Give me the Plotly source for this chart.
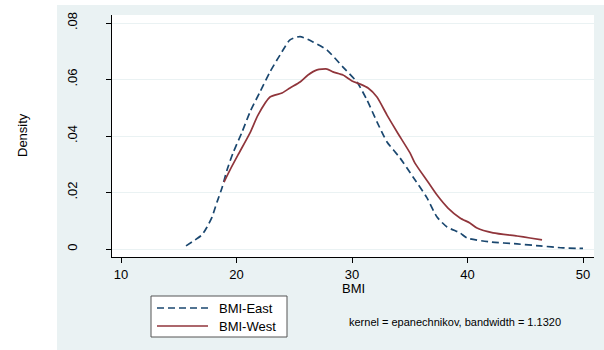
import plotly.graph_objects as go

# BMI-East kernel density
east_x = [15.63, 16.41, 17.01, 17.45, 17.88, 18.31, 18.74, 19.18, 19.70, 20.48,
          21.17, 22.03, 22.90, 23.77, 24.63, 25.50, 26.62, 27.84, 29.22, 30.43,
          31.30, 32.16, 33.03, 34.16, 35.28, 36.49, 37.36, 38.23, 39.35, 39.96,
          41.95, 44.29, 46.28, 48.27, 50.0]
east_y = [0.0011, 0.0032, 0.0050, 0.0078, 0.0113, 0.0166, 0.0216, 0.0280, 0.0340, 0.0414,
          0.0485, 0.0556, 0.0627, 0.0687, 0.0740, 0.0752, 0.0733, 0.0704, 0.0644, 0.0591,
          0.0527, 0.0450, 0.0379, 0.0322, 0.0255, 0.0181, 0.0113, 0.0078, 0.0057, 0.0039,
          0.0025, 0.0018, 0.0011, 0.0004, 0.0002]

# BMI-West kernel density
west_x = [18.92, 19.44, 20.13, 21.17, 21.86, 22.90, 23.94, 24.63, 25.50, 26.19,
          26.97, 27.84, 28.35, 29.22, 30.0, 30.69, 31.39, 32.16, 33.03, 33.90,
          35.02, 35.45, 36.58, 37.36, 38.31, 39.35, 40.2, 40.82, 42.21, 44.29,
          45.41, 46.45]
west_y = [0.0237, 0.0280, 0.0333, 0.0411, 0.0474, 0.0538, 0.0552, 0.0570, 0.0591, 0.0616,
          0.0634, 0.0637, 0.0627, 0.0616, 0.0595, 0.0584, 0.0570, 0.0538, 0.0474, 0.0414,
          0.0340, 0.0304, 0.0237, 0.0191, 0.0145, 0.0110, 0.0092, 0.0074, 0.0057, 0.0046,
          0.0039, 0.0032]

series_names = ["BMI-East", "BMI-West"]
series_colors = ["#1a476f", "#90353b"]
series_dash = ["7px,4px", "solid"]

x_ticks = [10, 20, 30, 40, 50]
y_ticks = [0, 0.02, 0.04, 0.06, 0.08]
y_ticklabels = ["0", ".02", ".04", ".06", ".08"]

FONT = "Liberation Sans, Arial, sans-serif"
BG = "#eaf2f3"

# plot area in pixels: x 112..594, y 15..257
L, R, T, B = 112, 594, 15, 257
W, H = 604, 350
def px(x):
    return (x - L) / (R - L)
def py(y):
    return (B - y) / (B - T)

fig = go.Figure()
for xs, ys, name, col, dash in zip([east_x, west_x], [east_y, west_y],
                                   series_names, series_colors, series_dash):
    fig.add_trace(go.Scatter(x=xs, y=ys, mode="lines", name=name, showlegend=False,
                             line=dict(color=col, width=1.7, dash=dash,
                                       shape="spline", smoothing=0.6)))

shapes = [
    dict(type="rect", xref="paper", yref="paper", x0=px(57), x1=px(604), y0=py(350), y1=py(5),
         fillcolor=BG, line=dict(width=0), layer="below"),
    dict(type="rect", xref="paper", yref="paper", x0=0, x1=1, y0=0, y1=1,
         fillcolor="white", line=dict(width=0), layer="below"),
    dict(type="rect", xref="paper", yref="paper", x0=px(151), x1=px(287), y0=py(337), y1=py(296),
         fillcolor="white", line=dict(width=1, color="#555555"), layer="below"),
]

annotations = [
    dict(text="Density", xref="paper", yref="paper", x=px(22), y=py(135), textangle=-90,
         showarrow=False, font=dict(size=13, family=FONT, color="black"), xanchor="center", yanchor="middle"),
    dict(text="BMI", xref="paper", yref="paper", x=0.5, y=py(288), showarrow=False,
         font=dict(size=13, family=FONT, color="black"), xanchor="center", yanchor="middle"),
    dict(text="kernel = epanechnikov, bandwidth = 1.1320", xref="paper", yref="paper",
         x=px(455), y=py(322), showarrow=False,
         font=dict(size=11, family=FONT, color="black"), xanchor="center", yanchor="middle"),
]

# legend entries (key line + label), placed inside the legend box
for i, (name, col, dash) in enumerate(zip(series_names, series_colors, series_dash)):
    yy = 308 + 18 * i
    shapes.append(dict(type="line", xref="paper", yref="paper", x0=px(157), x1=px(208),
                       y0=py(yy), y1=py(yy), line=dict(color=col, width=1.7, dash=dash)))
    annotations.append(dict(text=name, xref="paper", yref="paper", x=px(217), y=py(yy),
                            showarrow=False, xanchor="left", yanchor="middle",
                            font=dict(size=13, family=FONT, color="black")))

fig.update_layout(
    width=W, height=H,
    margin=dict(l=L, r=W - R, t=T, b=H - B, pad=0, autoexpand=False),
    paper_bgcolor="white", plot_bgcolor="white",
    font=dict(family=FONT, size=13, color="black"),
    shapes=shapes, annotations=annotations,
    showlegend=False,
    xaxis=dict(range=[9.221, 50.95], tickvals=x_ticks, ticks="outside", ticklen=5,
               tickcolor="black", showline=True, linecolor="black", linewidth=1,
               showgrid=False, zeroline=False, tickfont=dict(size=13), automargin=False),
    yaxis=dict(range=[-0.00283, 0.08283], tickvals=y_ticks, ticktext=y_ticklabels,
               ticks="outside", ticklen=5, tickcolor="black", showline=True,
               linecolor="black", linewidth=1, showgrid=True, gridcolor=BG, gridwidth=1.4,
               zeroline=False, tickangle=-90, ticklabelstandoff=24, tickfont=dict(size=13),
               automargin=False),
)

fig.write_html("out.html", config={"displayModeBar": False},
               post_script="document.body.style.margin='0';document.body.style.padding='0';")
